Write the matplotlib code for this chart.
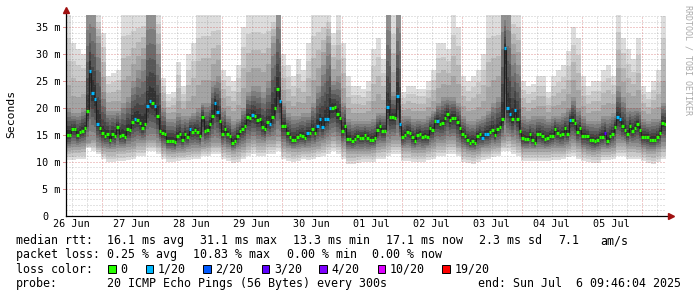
import numpy as np
import matplotlib
matplotlib.use("Agg")
import matplotlib.pyplot as plt
from matplotlib.patches import Rectangle

# hourly median rtt in ms, 240 hours ending Sun Jul 6 09:46:04 2025
median_rtt = [
    15.0, 15.0, 16.0, 16.0, 15.0, 15.5, 15.7, 16.2, 19.5, 26.9, 22.7, 21.6,
    17.1, 16.2, 15.3, 14.7, 15.1, 14.1, 15.1, 14.8, 16.4, 14.8, 15.0, 14.6,
    16.1, 15.9, 17.4, 18.0, 17.8, 17.2, 16.3, 17.0, 20.3, 21.3, 20.9, 20.4,
    18.5, 15.7, 15.3, 15.1, 13.9, 13.9, 13.9, 13.6, 14.8, 15.1, 14.1, 15.2,
    14.5, 16.1, 15.6, 15.9, 15.6, 14.7, 18.3, 15.8, 15.9, 17.0, 18.5, 20.9,
    19.2, 17.5, 15.1, 16.0, 15.2, 14.8, 13.5, 13.8, 14.8, 15.7, 16.0, 16.7,
    18.3, 18.1, 18.7, 18.5, 17.8, 17.9, 16.5, 16.0, 17.3, 17.1, 18.4, 19.9,
    23.5, 21.3, 16.7, 16.7, 15.3, 14.5, 14.1, 14.1, 14.5, 15.0, 14.8, 14.4,
    15.3, 15.3, 16.1, 15.4, 16.7, 17.9, 16.4, 17.9, 17.9, 19.9, 20.0, 20.1,
    18.8, 18.2, 15.7, 16.7, 14.3, 14.3, 13.8, 14.2, 14.7, 14.4, 14.4, 14.9,
    14.4, 14.1, 14.1, 14.4, 15.9, 16.6, 15.8, 15.7, 20.1, 18.3, 18.3, 18.2,
    22.3, 17.0, 14.5, 15.0, 15.6, 15.4, 14.5, 13.9, 15.0, 15.2, 14.6, 14.8,
    14.5, 16.2, 15.9, 17.5, 17.5, 17.0, 17.2, 18.1, 18.9, 17.7, 18.2, 18.2,
    17.3, 16.3, 15.1, 14.8, 14.1, 13.5, 13.8, 13.5, 14.7, 15.1, 14.4, 15.1,
    15.1, 15.6, 15.9, 14.9, 16.1, 16.4, 17.9, 31.1, 20.0, 18.8, 17.9, 19.7,
    17.9, 15.7, 14.4, 14.2, 14.2, 15.1, 14.1, 13.5, 15.2, 15.1, 14.7, 14.2,
    14.4, 14.7, 14.8, 16.1, 15.4, 15.0, 15.1, 16.2, 15.1, 17.8, 17.8, 17.2,
    15.6, 16.2, 14.8, 14.8, 14.7, 14.1, 14.1, 13.8, 14.0, 14.6, 14.6, 15.4,
    13.9, 14.8, 15.2, 16.5, 18.3, 18.0, 16.6, 15.9, 15.1, 16.6, 15.7, 16.3,
    17.0, 15.9, 14.6, 14.5, 14.6, 14.1, 14.1, 14.1, 14.5, 15.4, 17.2, 17.1,
]

# hourly lost pings out of 20
loss = [
    0, 0, 0, 0, 0, 0, 0, 0, 0, 1, 1, 1, 1, 0, 0, 0, 0, 0, 0, 0, 0, 0, 0, 0,
    0, 0, 0, 1, 0, 0, 0, 0, 1, 1, 0, 1, 0, 0, 0, 0, 0, 0, 0, 0, 0, 0, 0, 0,
    0, 1, 0, 0, 0, 0, 0, 0, 0, 0, 0, 1, 1, 0, 0, 0, 0, 0, 0, 0, 0, 0, 0, 0,
    0, 0, 1, 0, 0, 0, 0, 0, 0, 1, 0, 0, 0, 1, 0, 0, 0, 0, 0, 0, 0, 0, 0, 0,
    1, 0, 0, 0, 1, 1, 1, 1, 1, 1, 0, 0, 0, 0, 0, 0, 0, 0, 0, 0, 0, 0, 0, 0,
    0, 0, 0, 0, 0, 0, 0, 0, 1, 0, 0, 0, 1, 1, 0, 0, 0, 0, 0, 0, 0, 0, 0, 0,
    0, 0, 0, 0, 1, 0, 0, 0, 0, 0, 0, 0, 0, 0, 0, 0, 0, 0, 0, 0, 0, 0, 1, 1,
    1, 0, 0, 0, 0, 0, 0, 1, 1, 1, 0, 1, 0, 0, 0, 0, 0, 0, 0, 0, 0, 0, 0, 0,
    0, 0, 0, 0, 0, 0, 0, 0, 0, 1, 0, 0, 0, 0, 0, 0, 0, 0, 0, 0, 0, 0, 0, 3,
    0, 0, 0, 0, 1, 1, 0, 0, 0, 0, 0, 0, 0, 0, 0, 0, 0, 0, 0, 0, 0, 0, 0, 0,
]

# smoke envelope per two-hour slot (ms): outer max, upper core, lower core, outer min
smoke_top = [
    37.4, 32, 31, 30, 37.4, 37.4, 37.4, 34, 26, 26.5, 27, 37.4,
    37.4, 37.4, 37.4, 37.4, 37.4, 37.4, 37.4, 25.5, 22.5, 23, 28.5, 24,
    30, 32, 37.4, 37.4, 37.4, 37.4, 37.4, 27, 26, 25, 28, 35,
    37.4, 37.4, 37.4, 37.4, 37.4, 37.4, 37.4, 30, 28, 26, 29, 27,
    32, 37.4, 37.4, 37.4, 37.4, 34, 37.4, 32, 26, 24, 24, 23.5,
    25, 31, 33, 29, 37.4, 37.4, 37.4, 23, 24, 24, 23.5, 23.5,
    25, 27, 32, 32, 31, 37.4, 35, 26, 25, 26, 27, 30,
    37.4, 37.4, 37.4, 37.4, 37.4, 37.4, 37.4, 25, 24, 24.5, 26, 26,
    23, 26, 27, 28, 30.5, 35, 33, 26, 24, 25, 25, 27,
    28, 26, 37.4, 33, 31, 29, 33, 24, 23, 25, 27, 37,
]
smoke_upper = [
    20, 19, 19, 20, 37.4, 37.4, 32, 23, 19.5, 19.5, 19.5, 21,
    22, 25, 27, 29, 37.4, 37.4, 30, 20, 18, 18, 19, 18.5,
    18.5, 19, 20, 21, 21, 25, 26, 20, 18.5, 17.5, 18, 20,
    23, 24, 24, 23, 25, 32, 37.4, 21, 19, 18.5, 18.5, 19,
    19, 21, 24, 28, 32, 25, 26, 21, 18, 17.5, 17.5, 17.5,
    17.5, 18, 19, 19, 37.4, 23, 37.4, 18.5, 18.5, 18, 18, 18,
    18.5, 19.5, 21, 22, 22, 22, 21, 18.5, 17.5, 17.5, 18, 18.5,
    19.5, 21, 22, 37.4, 37.4, 30, 28, 18.5, 18, 18.5, 18.5, 18.5,
    18, 18.5, 18.5, 19, 20, 22, 20, 18.5, 17.5, 17.5, 17.5, 18.5,
    18.5, 19, 24, 22, 20, 20, 20, 18, 17.5, 18, 18, 21,
]
smoke_lower = [
    12.5, 12.8, 12.8, 13, 13.5, 14, 13, 12.5, 12.3, 12.3, 12.5, 12.5,
    12.8, 13, 13.5, 13.5, 14, 14, 13.5, 12.5, 12, 11.8, 12, 12,
    12.3, 12.5, 12.5, 12.8, 13, 13.5, 13.5, 12.8, 12.3, 12, 12.3, 12.8,
    13.5, 14, 13.5, 13.5, 14, 14, 14.5, 13, 12.5, 12.3, 12.3, 12.5,
    12.5, 12.8, 13, 13.5, 14, 14.5, 14, 13, 12, 12, 12, 12,
    12, 12.2, 12.8, 13, 13.5, 14, 14, 12.5, 12.5, 12.2, 12.2, 12.2,
    12.5, 13, 13.5, 13.5, 14, 14, 13, 12.3, 12, 11.8, 12, 12.5,
    12.5, 13, 13, 14, 14.5, 14, 13.5, 12.3, 12.3, 12.3, 12.3, 12.3,
    12.3, 12.5, 12.5, 12.5, 13, 13.5, 13, 12.3, 12, 11.8, 12, 12.3,
    12.3, 12.5, 13.5, 13.5, 13, 13, 12.8, 12.3, 12, 12, 12.3, 13,
]
smoke_bottom = [
    10.3, 10.3, 10.5, 10.5, 12.5, 12, 11.5, 10.5, 10, 10, 10.2, 10.2,
    10.3, 10.5, 11, 11, 12, 12, 11.5, 10.5, 10, 10, 10.2, 10.3,
    10.3, 10.5, 10.5, 11, 11, 11.5, 11.5, 10.5, 10.2, 9.8, 10, 10.5,
    11, 11.5, 11, 11, 11.5, 11.5, 12, 10.5, 10.2, 10, 10.2, 10.5,
    10.3, 10.5, 10.8, 11, 11.5, 12, 11.5, 10.5, 9.5, 9.5, 9.8, 10,
    10, 10, 10.5, 10.5, 11, 11.5, 11.5, 10.2, 10.2, 10, 10, 10,
    10.3, 10.5, 11, 11, 11.5, 11.5, 11, 10, 9.8, 9.5, 10, 10.3,
    10.5, 10.8, 11, 12, 12, 11.5, 11, 10.2, 10.2, 10.2, 10.2, 10.2,
    10.2, 10.3, 10.3, 10.5, 10.8, 11, 10.5, 10.2, 10, 9.8, 9.8, 10.3,
    10.3, 10.5, 11, 11, 10.5, 10.5, 10.5, 10.2, 9.8, 9.5, 10, 10.5,
]

day_labels = ["26 Jun", "27 Jun", "28 Jun", "29 Jun", "30 Jun",
              "01 Jul", "02 Jul", "03 Jul", "04 Jul", "05 Jul"]
y_ticks = [0, 5, 10, 15, 20, 25, 30, 35]
y_labels = ["0", "5 m", "10 m", "15 m", "20 m", "25 m", "30 m", "35 m"]

loss_levels = [0, 1, 2, 3, 4, 10, 19]
loss_names = ["0", "1/20", "2/20", "3/20", "4/20", "10/20", "19/20"]
loss_colors = ["#26ff00", "#00b8ff", "#0059ff", "#5e00ff", "#7e00ff", "#dd00ff", "#ff0000"]

first_midnight = 14.232  # hours from left edge to 27 Jun 00:00
y_top = 37.27

MONO = "DejaVu Sans Mono"
W, H = 697, 297


def fx(px):
    return px / W


def fy(py):
    return 1 - py / H


fig = plt.figure(figsize=(W / 100, H / 100), dpi=100)
ax = fig.add_axes([fx(66), fy(215.5), 600 / W, 200.5 / H])
ax.set_xlim(0, 240)
ax.set_ylim(0, y_top)
for s in ax.spines.values():
    s.set_visible(False)
ax.set_xticks([])
ax.set_yticks([])

med = np.array(median_rtt)
hours = np.arange(len(med) + 1)
top = np.repeat(smoke_top, 2)
up = np.repeat(smoke_upper, 2)
lo = np.repeat(smoke_lower, 2)
bot = np.repeat(smoke_bottom, 2)


def edge(a):
    return np.append(a, a[-1])


# smoke: ten nested bands, lightest outside, darkest around the median
for j in range(1, 11):
    shade = int(190 / 10 * (10 - j)) + 50
    f = (j - 1) / 10
    if f <= 0.4:
        hi = top + (up - top) * f / 0.4
        lw_ = bot + (lo - bot) * f / 0.4
    else:
        g = (f - 0.4) / 0.6
        hi = up + (med - up) * g
        lw_ = lo + (med - lo) * g
    hi = np.maximum(hi, med)
    lw_ = np.minimum(lw_, med)
    c = "#%02x%02x%02x" % (shade, shade, shade)
    ax.fill_between(hours, edge(lw_), edge(hi), step="post", color=c,
                    linewidth=0, zorder=1)

# grid, dotted
dots = (0, (1, 2))
minor_c = (0.45, 0.45, 0.45, 0.4)
major_c = (0.75, 0.1, 0.1, 0.45)
grid_kw = dict(lw=0.72, ls=dots, zorder=2, snap=True)
for k in range(1, 38):
    if k % 5:
        ax.axhline(k, color=minor_c, **grid_kw)
for k in range(40):
    xv = first_midnight - 12 + 6 * k
    if 0 < xv < 240 and k % 4 != 2:
        ax.axvline(xv, color=minor_c, **grid_kw)
for v in y_ticks[1:]:
    ax.axhline(v, color=major_c, **grid_kw)
    ax.plot([-0.005, 0], [v, v], color=major_c, lw=0.72, clip_on=False,
            snap=True, transform=ax.get_yaxis_transform())
for k in range(10):
    ax.axvline(first_midnight + 24 * k, color=major_c, **grid_kw)

# median line coloured by loss
ax.step(hours, edge(med), where="post", color="#202020", lw=0.8, zorder=4)
loss_arr = np.array(loss)
for lvl, col in zip(loss_levels, loss_colors):
    m = loss_arr == lvl
    if m.any():
        ax.hlines(med[m], hours[:-1][m], hours[:-1][m] + 1, colors=col,
                  lw=2.3, zorder=5)

# axes with arrows
ax.plot([0, 0], [0, 1.012], color="black", lw=0.9, clip_on=False,
        transform=ax.transAxes, zorder=6)
ax.plot([0, 1.004], [0, 0], color="black", lw=0.9, clip_on=False,
        transform=ax.transAxes, zorder=6)
ax.plot([0], [1.025], marker="^", ms=4.5, color="#a01010", clip_on=False,
        transform=ax.transAxes, zorder=7)
ax.plot([1.008], [0], marker=">", ms=4.5, color="#a01010", clip_on=False,
        transform=ax.transAxes, zorder=7)

# tick labels
adv = 7.3 * 0.602
for v, lab in zip(y_ticks, y_labels):
    shift = 2 * adv if lab == "0" else 0
    ax.annotate(lab, xy=(0, v), xycoords=("axes fraction", "data"),
                xytext=(-4 - shift, 0), textcoords="offset points",
                ha="right", va="center_baseline", family=MONO, fontsize=7.3)
for k, lab in enumerate(day_labels):
    ax.annotate(lab, xy=(first_midnight - 12 + 24 * k, 0),
                xycoords=("data", "axes fraction"), xytext=(0, -8.3),
                textcoords="offset points", ha="center", va="baseline",
                family=MONO, fontsize=7.3)

fig.text(fx(11), fy(114), "Seconds", rotation=90, ha="center", va="center",
         family=MONO, fontsize=8.2)
fig.text(fx(688), fy(60), "RRDTOOL / TOBI OETIKER", rotation=270,
         ha="center", va="center", family=MONO, fontsize=6.0, color="#aaaaaa")

# legend block
rows = [
    [("median rtt:", 16), ("16.1 ms avg", 107.3), ("31.1 ms max", 200),
     ("13.3 ms min", 293), ("17.1 ms now", 386), ("2.3 ms sd", 479.3),
     ("7.1", 558), ("am/s", 600)],
    [("packet loss:", 16), ("0.25 % avg", 107.3), ("10.83 % max", 192.7),
     ("0.00 % min", 286.7), ("0.00 % now", 372.3)],
    [("loss color:", 16)],
    [("probe:", 16), ("20 ICMP Echo Pings (56 Bytes) every 300s", 107.3),
     ("end: Sun Jul  6 09:46:04 2025", 478.3)],
]
row_y = [244.3, 258.4, 272.6, 286.7]
for row, yb in zip(rows, row_y):
    for txt, xp in row:
        fig.text(fx(xp), fy(yb), txt, ha="left", va="baseline",
                 family=MONO, fontsize=8.4)

box_x = [108.3, 145.7, 203.3, 261.7, 319.3, 377.7, 442.3]
for bx, name, col in zip(box_x, loss_names, loss_colors):
    fig.add_artist(Rectangle((fx(bx), fy(272.7)), 7.3 / W, 7.7 / H,
                             transform=fig.transFigure, facecolor=col,
                             edgecolor="black", lw=0.7))
    fig.text(fx(bx + 12.3), fy(272.6), name, ha="left", va="baseline",
             family=MONO, fontsize=8.4)

fig.savefig("out.png", dpi=100)
